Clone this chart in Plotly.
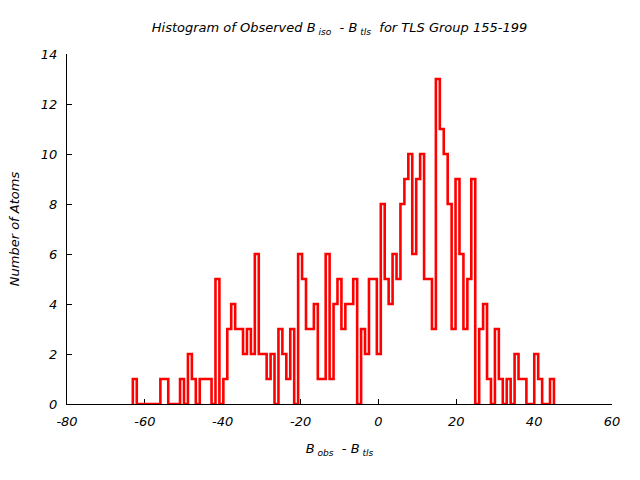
import plotly.graph_objects as go

# Histogram data
bin_start = -63.09      # left edge of first bin
bin_width = 1.011       # width of each bin
counts = [1, 0, 0, 0, 0, 0, 0, 1, 1, 0,
          0, 0, 1, 0, 2, 1, 0, 1, 1, 1,
          0, 5, 0, 1, 3, 4, 3, 3, 2, 3,
          2, 6, 2, 2, 1, 2, 0, 3, 2, 1,
          3, 0, 6, 5, 3, 3, 4, 1, 1, 6,
          1, 4, 5, 3, 4, 4, 5, 0, 3, 2,
          5, 5, 2, 8, 5, 4, 6, 5, 8, 9,
          10, 6, 9, 10, 5, 5, 3, 13, 11, 10,
          8, 3, 9, 6, 3, 5, 9, 0, 3, 4,
          1, 0, 3, 1, 0, 1, 0, 2, 1, 1,
          0, 0, 2, 1, 0, 0, 1]

x_ticks = [-80, -60, -40, -20, 0, 20, 40, 60]
y_ticks = [0, 2, 4, 6, 8, 10, 12, 14]

edges = [bin_start + i * bin_width for i in range(len(counts) + 1)]
xs = [edges[0]] + edges[:-1] + [edges[-1]]
ys = [0] + counts + [0]

FONT = "DejaVu Sans"

fig = go.Figure()
fig.add_trace(go.Scatter(
    x=xs, y=ys, mode="lines", line=dict(color="#ff0000", width=2.6, shape="hv"),
    cliponaxis=False, showlegend=False, hoverinfo="skip"))

fig.update_layout(
    width=640, height=480,
    margin=dict(l=67, r=28, t=54, b=76),
    paper_bgcolor="white", plot_bgcolor="white",
    title=dict(
        text="Histogram of Observed B<sub> iso</sub>  - B<sub> tls</sub>  for TLS Group 155-199",
        x=0.5, xref="paper", xanchor="center", y=0.952, yref="container",
        font=dict(family=FONT, size=13, color="black", style="italic")),
    xaxis=dict(
        range=[-80, 60], tickvals=x_ticks, ticktext=[str(v) for v in x_ticks],
        showgrid=False, zeroline=False, showline=True, linecolor="black", linewidth=1,
        ticks="inside", ticklen=5, tickcolor="black", layer="below traces",
        ticklabelstandoff=5, automargin=False,
        tickfont=dict(family=FONT, size=13, color="black", style="italic"),
        title=dict(text="B<sub> obs</sub>  - B<sub> tls</sub>", standoff=16,
                   font=dict(family=FONT, size=13, color="black", style="italic"))),
    yaxis=dict(
        range=[0, 14], tickvals=y_ticks, ticktext=[str(v) for v in y_ticks],
        showgrid=False, zeroline=False, showline=True, linecolor="black", linewidth=1,
        ticks="inside", ticklen=5, tickcolor="black", layer="below traces",
        ticklabelstandoff=6, automargin=False,
        tickfont=dict(family=FONT, size=13, color="black", style="italic"),
        title=dict(text="Number of Atoms", standoff=18,
                   font=dict(family=FONT, size=13, color="black", style="italic"))),
)

fig.write_html("out.html")
